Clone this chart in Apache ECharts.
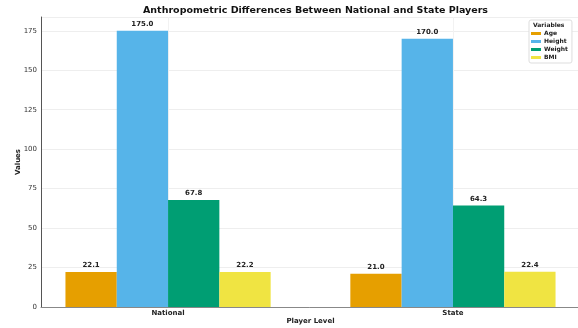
<!DOCTYPE html>
<html><head><meta charset="utf-8">
<script src="https://cdn.jsdelivr.net/npm/echarts@6/dist/echarts.min.js"></script>
<style>html,body{margin:0;padding:0;background:#fff}#c{width:578px;height:328px}</style>
</head><body><div id="c"></div>
<script>
var categories = ['National', 'State'];
var variables = ['Age', 'Height', 'Weight', 'BMI'];
var age = [22.1, 21.0];
var height = [175.0, 170.0];
var weight = [67.8, 64.3];
var bmi = [22.2, 22.4];
var yTicks = [0, 25, 50, 75, 100, 125, 150, 175];
var colors = ['#E69F00', '#56B4E9', '#009E73', '#F0E442'];
var seriesValues = [age, height, weight, bmi];

var font = 'DejaVu Sans';
var chart = echarts.init(document.getElementById('c'));
var series = variables.map(function (name, i) {
  return {
    name: name,
    type: 'bar',
    barWidth: 51.3,
    barGap: '0%',
    itemStyle: { color: colors[i] },
    label: {
      show: true, position: 'top', distance: 3,
      fontFamily: font, fontSize: 7, fontWeight: 'bold', color: '#222',
      formatter: function (p) { return p.value[1].toFixed(1); }
    },
    data: seriesValues[i].map(function (v, j) { return [j, v]; })
  };
});
chart.setOption({
  animation: false,
  title: [
    { text: 'Anthropometric Differences Between National and State Players',
      left: 310.5, top: 1, textAlign: 'center',
      textStyle: { fontFamily: font, fontSize: 9.5, fontWeight: 'bold', color: '#111' } },
    { text: 'Variables', left: 533, top: 22, padding: 0,
      textStyle: { fontFamily: font, fontSize: 6, fontWeight: 'bold', color: '#222' } }
  ],
  legend: {
    orient: 'vertical', left: 529, top: 20,
    padding: [10, 4, 2, 2],
    itemWidth: 10, itemHeight: 3, itemGap: 1,
    icon: 'rect',
    backgroundColor: '#fff', borderColor: '#ddd', borderWidth: 1, borderRadius: 2,
    textStyle: { fontFamily: font, fontSize: 6, fontWeight: 'bold', color: '#222', lineHeight: 7, padding: [0,0,0,-2] },
    data: variables
  },
  grid: { left: 41, right: -2, top: 17, bottom: 21, containLabel: false, outerBoundsMode: 'none' },
  xAxis: {
    type: 'value', min: -0.446, max: 1.446,
    name: 'Player Level', nameLocation: 'middle', nameGap: 11, nameMoveOverlap: false,
    nameTextStyle: { fontFamily: font, fontSize: 7, fontWeight: 'bold', color: '#222' },
    axisLine: { show: true, onZero: false, lineStyle: { color: '#888', width: 1 } },
    axisTick: { show: false, customValues: [0, 1] },
    axisLabel: { customValues: [0, 1], margin: 3,
      fontFamily: font, fontSize: 7, fontWeight: 'bold', color: '#222',
      formatter: function (v) { return categories[Math.round(v)]; } },
    splitLine: { show: true, lineStyle: { color: '#f2f2f2', width: 1 } }
  },
  yAxis: {
    type: 'value', min: 0, max: 183.75, interval: 25,
    name: 'Values', nameLocation: 'middle', nameGap: 19, nameMoveOverlap: false,
    nameTextStyle: { fontFamily: font, fontSize: 7, fontWeight: 'bold', color: '#222' },
    axisLine: { show: true, onZero: false, lineStyle: { color: '#555', width: 1 } },
    axisTick: { show: false },
    axisLabel: { margin: 4, fontFamily: font, fontSize: 7, color: '#333',
      showMaxLabel: false,
      formatter: function (v) { return yTicks.indexOf(v) >= 0 ? String(v) : ''; } },
    splitLine: { show: true, lineStyle: { color: '#eeeeee', width: 1 } }
  },
  series: series
});
</script></body></html>
